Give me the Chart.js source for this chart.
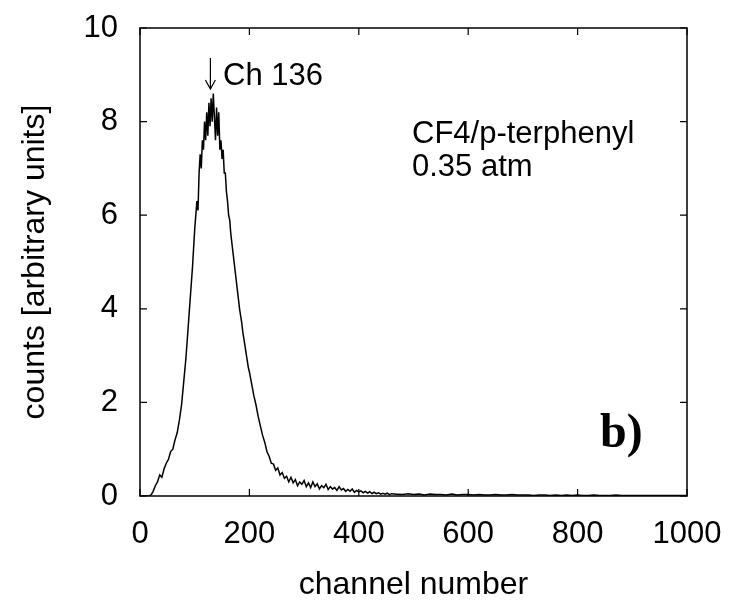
<!DOCTYPE html>
<html>
<head>
<meta charset="utf-8">
<script src="https://cdn.jsdelivr.net/npm/chart.js@4.4.0/dist/chart.umd.min.js"></script>
<style>
  html, body { margin: 0; padding: 0; background: #fff; }
  #wrap { width: 733px; height: 615px; }
</style>
</head>
<body>
<div id="wrap"><canvas id="spectrum" width="733" height="615"></canvas></div>
<script>
// channel numbers and counts
const channels = [
    0, 4, 8, 12, 16, 20, 24, 28, 32, 36, 40, 44, 48, 52, 56, 60, 64, 68, 72, 76, 80, 84, 88, 92, 96, 100,
    102, 104, 106, 108, 110, 112, 114, 116, 118, 120, 122, 124, 126, 128, 130, 132, 134, 136, 138, 140,
    142, 144, 146, 148, 150, 152, 154, 156, 158, 160, 162, 164, 166, 168, 170, 172, 174, 176, 178, 180,
    182, 184, 186, 188, 190, 192, 194, 196, 198, 200,
    204, 208, 212, 216, 220, 224, 228, 232, 236, 240, 244, 248, 252, 256, 260, 264, 268, 272, 276, 280,
    284, 288, 292, 296, 300, 304, 308, 312, 316, 320, 324, 328, 332, 336, 340, 344, 348, 352, 356, 360,
    364, 368, 372, 376, 380, 384, 388, 392, 396, 400, 404, 408, 412, 416, 420, 424, 428, 432, 436, 440,
    444, 448, 452, 456, 460,
    470, 480, 490, 500, 510, 520, 530, 540, 550, 560, 570, 580, 590, 600, 610, 620, 630, 640, 650, 660,
    670, 680, 690, 700, 710, 720, 730, 740, 750, 760, 770, 780, 790, 800, 810, 820, 830, 840, 850, 860,
    870, 880, 890, 900, 910, 920, 930, 940, 950, 960, 970, 980, 990, 1000
];
const counts = [
    0, 0, 0, 0, 0, 0.02, 0.1, 0.22, 0.3, 0.45, 0.4, 0.58, 0.7, 0.78, 0.95, 1.0, 1.2, 1.35, 1.62, 1.95, 2.45, 2.95, 3.6, 4.25, 4.9, 5.7,
    6.0, 6.3, 6.1, 6.9, 7.3, 7.0, 7.6, 7.4, 8.0, 7.6, 8.2, 7.7, 8.4, 7.9, 8.5, 8.0, 8.6, 8.1, 7.6, 8.3,
    7.7, 8.2, 7.4, 7.6, 7.2, 7.4, 6.9, 6.9, 6.5, 6.3, 6.0, 5.9, 5.6, 5.4, 5.2, 5.0, 4.8, 4.6, 4.4, 4.2,
    4.0, 3.85, 3.7, 3.5, 3.35, 3.2, 3.05, 2.9, 2.75, 2.65,
    2.4, 2.15, 1.95, 1.7, 1.5, 1.3, 1.15, 0.95, 0.85, 0.7, 0.68, 0.55, 0.6, 0.45, 0.5, 0.38, 0.42, 0.3, 0.4, 0.28,
    0.35, 0.22, 0.3, 0.25, 0.33, 0.2, 0.28, 0.18, 0.3, 0.2, 0.26, 0.15, 0.22, 0.18, 0.25, 0.14, 0.2, 0.15, 0.18, 0.12,
    0.2, 0.13, 0.16, 0.1, 0.14, 0.1, 0.15, 0.08, 0.12, 0.09, 0.11, 0.07, 0.1, 0.06, 0.09, 0.05, 0.08, 0.05, 0.07, 0.04,
    0.06, 0.04, 0.06, 0.03, 0.05,
    0.04, 0.03, 0.05, 0.03, 0.04, 0.02, 0.04, 0.03, 0.03, 0.02, 0.04, 0.02, 0.03, 0.03, 0.02, 0.03, 0.02, 0.02, 0.03, 0.02,
    0.02, 0.03, 0.02, 0.02, 0.02, 0.01, 0.02, 0.02, 0.01, 0.02, 0.01, 0.02, 0.01, 0.02, 0.01, 0.01, 0.02, 0.01, 0.01, 0.01,
    0.02, 0.01, 0.01, 0.01, 0.01, 0.01, 0.01, 0.01, 0.01, 0.01, 0.01, 0.01, 0.01, 0.01
];
const xTicks = [0, 200, 400, 600, 800, 1000];
const yTicks = [0, 2, 4, 6, 8, 10];
const peakChannel = 136;

const FONT = '"Liberation Sans", Arial, sans-serif';

// frame, inward ticks on all four sides, and the text annotations
const framePlugin = {
    id: 'frame',
    afterDraw(chart) {
        const { ctx, chartArea: a } = chart;
        const xs = chart.scales.x, ys = chart.scales.y;
        ctx.save();
        ctx.strokeStyle = '#000';
        ctx.lineWidth = 1.5;
        ctx.strokeRect(a.left, a.top, a.right - a.left, a.bottom - a.top);
        ctx.lineWidth = 1.2;
        ctx.beginPath();
        xTicks.forEach(v => {
            const px = xs.getPixelForValue(v);
            ctx.moveTo(px, a.bottom); ctx.lineTo(px, a.bottom - 7);
            ctx.moveTo(px, a.top); ctx.lineTo(px, a.top + 7);
        });
        yTicks.forEach(v => {
            const py = ys.getPixelForValue(v);
            ctx.moveTo(a.left, py); ctx.lineTo(a.left + 7, py);
            ctx.moveTo(a.right, py); ctx.lineTo(a.right - 7, py);
        });
        ctx.stroke();

        // arrow pointing at the peak channel
        const ax = xs.getPixelForValue(peakChannel) - 4;
        ctx.lineWidth = 1.2;
        ctx.beginPath();
        ctx.moveTo(ax, 58); ctx.lineTo(ax, 89);
        ctx.moveTo(ax - 5, 80); ctx.lineTo(ax, 89); ctx.lineTo(ax + 5, 80);
        ctx.stroke();

        ctx.fillStyle = '#000';
        ctx.textAlign = 'left';
        ctx.textBaseline = 'alphabetic';
        ctx.font = '31px ' + FONT;
        ctx.fillText('Ch ' + peakChannel, 223, 85);
        ctx.fillText('CF4/p-terphenyl', 412, 143);
        ctx.fillText('0.35 atm', 412, 176);
        ctx.font = 'bold 48px "Liberation Serif", "Times New Roman", serif';
        ctx.fillText('b)', 600, 447);
        ctx.restore();
    }
};

const ctx = document.getElementById('spectrum').getContext('2d');
new Chart(ctx, {
    type: 'line',
    data: {
        datasets: [{
            data: channels.map((c, i) => ({ x: c, y: counts[i] })),
            borderColor: '#000',
            borderWidth: 1.5,
            pointRadius: 0,
            tension: 0,
            fill: false
        }]
    },
    options: {
        responsive: false,
        animation: false,
        layout: { padding: { left: 0, top: 28, right: 46, bottom: 0 } },
        plugins: {
            legend: { display: false },
            tooltip: { enabled: false }
        },
        scales: {
            x: {
                type: 'linear',
                min: 0,
                max: 1000,
                afterFit: s => { s.height = 119; s.paddingLeft = 0; s.paddingRight = 0; },
                afterBuildTicks: s => { s.ticks = xTicks.map(v => ({ value: v })); },
                grid: { display: false, drawTicks: false },
                border: { display: false },
                ticks: {
                    color: '#000', padding: 20, maxRotation: 0,
                    font: { family: FONT, size: 31 },
                    callback: v => String(v)
                },
                title: {
                    display: true,
                    text: 'channel number',
                    color: '#000',
                    font: { family: FONT, size: 32 },
                    padding: { top: 11, bottom: 11 }
                }
            },
            y: {
                min: 0,
                max: 10,
                afterFit: s => { s.width = 140; s.paddingTop = 0; s.paddingBottom = 0; },
                afterBuildTicks: s => { s.ticks = yTicks.map(v => ({ value: v })); },
                grid: { display: false, drawTicks: false },
                border: { display: false },
                ticks: {
                    color: '#000', padding: 22,
                    font: { family: FONT, size: 31 },
                    callback: v => String(v)
                },
                title: {
                    display: true,
                    text: 'counts [arbitrary units]',
                    color: '#000',
                    font: { family: FONT, size: 32 },
                    padding: { top: 16, bottom: 16 }
                }
            }
        }
    },
    plugins: [framePlugin]
});
</script>
</body>
</html>
